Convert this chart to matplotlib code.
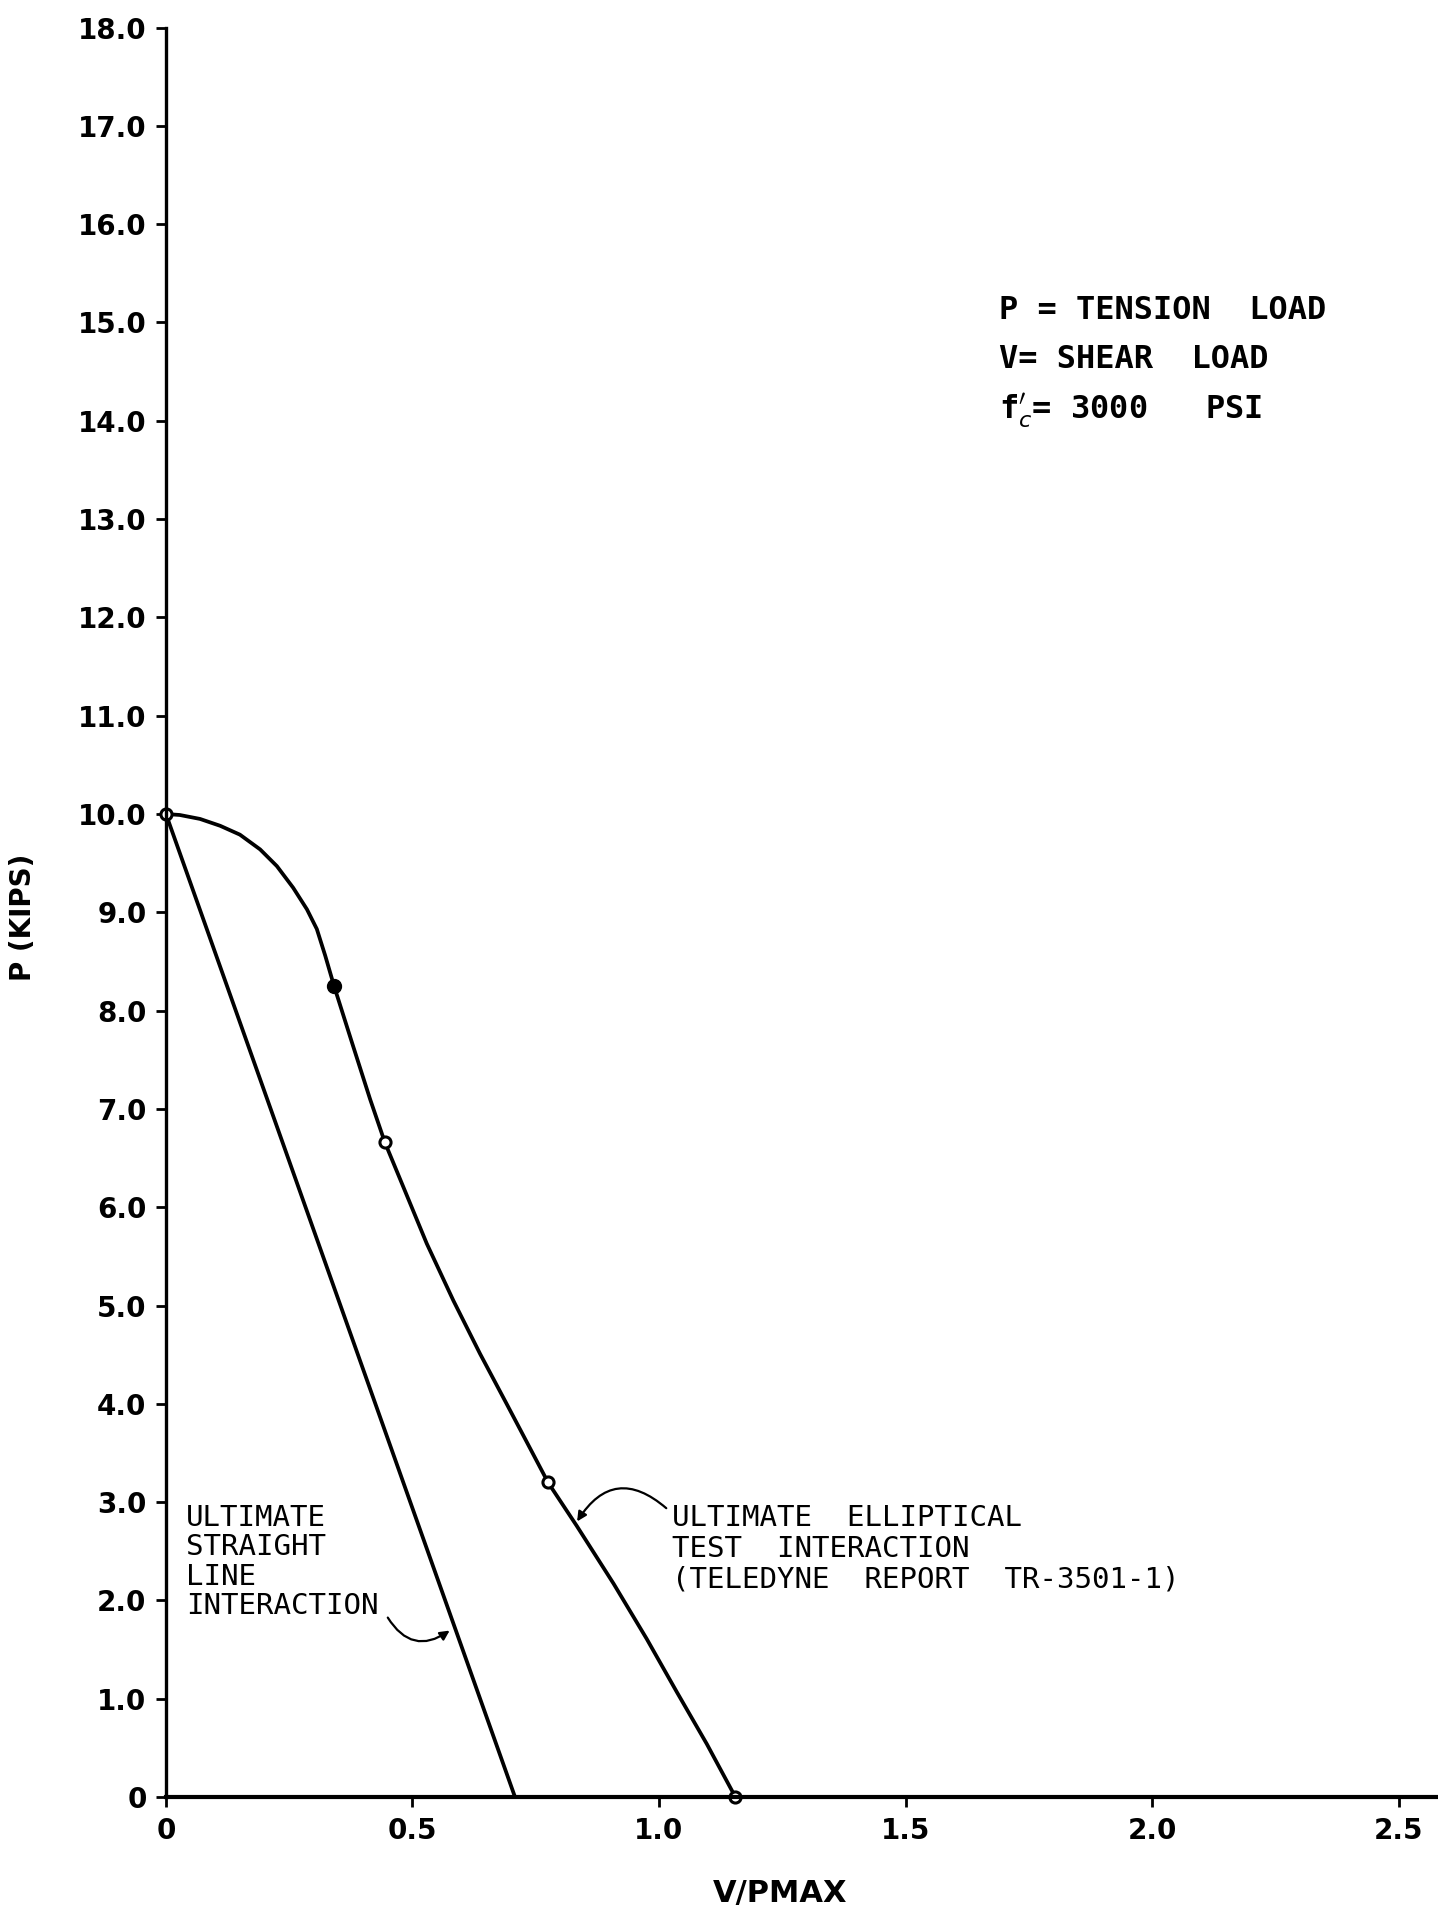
import matplotlib
matplotlib.use("Agg")
import matplotlib.pyplot as plt

# straight-line interaction (P vs V/Pmax)
straight_v = [0.0, 0.708]
straight_p = [10.0, 0.0]

# elliptical test interaction
ellip_v = [0.0, 0.028, 0.069, 0.110, 0.150, 0.191, 0.225, 0.258, 0.286, 0.306,
           0.323, 0.341, 0.377, 0.414, 0.444, 0.482, 0.529, 0.583, 0.637, 0.691,
           0.732, 0.775, 0.833, 0.908, 0.975, 1.036, 1.097, 1.155]
ellip_p = [10.0, 9.99, 9.95, 9.88, 9.79, 9.64, 9.47, 9.25, 9.03, 8.83,
           8.56, 8.25, 7.68, 7.10, 6.66, 6.20, 5.63, 5.05, 4.51, 4.00,
           3.61, 3.20, 2.76, 2.17, 1.61, 1.07, 0.54, 0.0]

# test points on the elliptical curve
test_v = [0.0, 0.444, 0.775, 1.155]
test_p = [10.0, 6.66, 3.20, 0.0]
solid_v = [0.341]
solid_p = [8.25]

yticks = [0, 1, 2, 3, 4, 5, 6, 7, 8, 9, 10, 11, 12, 13, 14, 15, 16, 17, 18]
ytick_labels = ["0"] + [f"{v:.1f}" for v in yticks[1:]]
xticks = [0, 0.5, 1.0, 1.5, 2.0, 2.5]
xtick_labels = ["0", "0.5", "1.0", "1.5", "2.0", "2.5"]

legend_lines = ["P = TENSION  LOAD", "V= SHEAR  LOAD", "f$_c^{\\prime}$= 3000   PSI"]
legend_p = [15.12, 14.62, 14.10]

lettering = "DejaVu Sans Mono"

fig = plt.figure(figsize=(14.38, 19.13), dpi=100)
ax = fig.add_axes([0.1154, 0.0606, 0.8846, 0.925])

ax.plot(straight_v, straight_p, color="black", lw=2.7, solid_capstyle="butt")
ax.plot(ellip_v, ellip_p, color="black", lw=2.7, solid_joinstyle="round")
ax.plot(test_v, test_p, "o", ms=8, mfc="white", mec="black", mew=2.2, clip_on=False)
ax.plot(solid_v, solid_p, "o", ms=10, color="black", clip_on=False)

ax.set_xlim(0, 2.58)
ax.set_ylim(0, 18)

for side in ("top", "right"):
    ax.spines[side].set_visible(False)
ax.spines["left"].set_linewidth(2.4)
ax.spines["bottom"].set_linewidth(3.0)

ax.set_yticks(yticks)
ax.set_yticklabels(ytick_labels, fontsize=20, fontweight="bold")
ax.set_xticks(xticks)
ax.set_xticklabels(xtick_labels, fontsize=20, fontweight="bold")
ax.tick_params(axis="both", direction="out", length=7, width=2, pad=7)

ax.set_ylabel("P (KIPS)", fontsize=20, fontweight="bold")
ax.yaxis.set_label_coords(-0.1123, 0.497)
ax.yaxis.label.set_va("center")
ax.set_xlabel("V/PMAX", fontsize=22, fontweight="bold")
ax.xaxis.set_label_coords(0.483, -0.0544)
ax.xaxis.label.set_va("center")

for line, p in zip(legend_lines, legend_p):
    ax.text(1.69, p, line, fontsize=23, fontweight="bold", va="center",
            ha="left", family=lettering)

ax.text(0.04, 2.98, "ULTIMATE\nSTRAIGHT\nLINE\nINTERACTION", fontsize=21,
        va="top", ha="left", linespacing=1.06, family=lettering)
ax.annotate("", xy=(0.58, 1.71), xytext=(0.447, 1.85),
            arrowprops=dict(arrowstyle="-|>", color="black", lw=1.6,
                            mutation_scale=14,
                            connectionstyle="arc3,rad=0.55"))

ax.text(1.026, 2.98, "ULTIMATE  ELLIPTICAL\nTEST  INTERACTION\n(TELEDYNE  REPORT  TR-3501-1)",
        fontsize=21, va="top", ha="left", linespacing=1.13, family=lettering)
ax.annotate("", xy=(0.831, 2.78), xytext=(1.019, 2.92),
            arrowprops=dict(arrowstyle="-|>", color="black", lw=1.6,
                            mutation_scale=14,
                            connectionstyle="arc3,rad=0.6"))

fig.savefig("out.png", dpi=100, facecolor="white")
